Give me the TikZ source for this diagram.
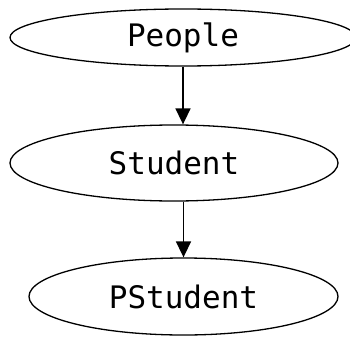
\documentclass[tikz,border=0pt]{standalone}
\usepackage{fontspec}
\setmonofont{DejaVu Sans Mono}
\usepackage{tikz}
\usetikzlibrary{arrows.meta, shapes.geometric}
\tikzset{
  classnode/.style={ellipse,draw=black,line width=1.3pt,inner sep=0pt,font=\fontsize{31}{31}\selectfont\ttfamily},
  isaedge/.style={-{Triangle[width=15pt,length=16pt]},line width=1.6pt,black},
}
\begin{document}
\begin{tikzpicture}[x=1pt,y=-1pt]
  \clip (0,0) rectangle (350,337);
  % ---- class hierarchy, top to bottom ----
  \node[classnode,minimum width=346pt,minimum height=57pt] (People) at (183,37.5) {People};
  \node[classnode,minimum width=328pt,minimum height=76pt] (Student) at (174,163) {Student};
  \node[classnode,minimum width=309pt,minimum height=77pt] (PStudent) at (183.5,296.5) {PStudent};
  \draw[isaedge] (People.south) -- (People.south |- Student.north);
  \draw[isaedge] (Student.south -| PStudent.north) -- (PStudent.north);
\end{tikzpicture}
\end{document}
